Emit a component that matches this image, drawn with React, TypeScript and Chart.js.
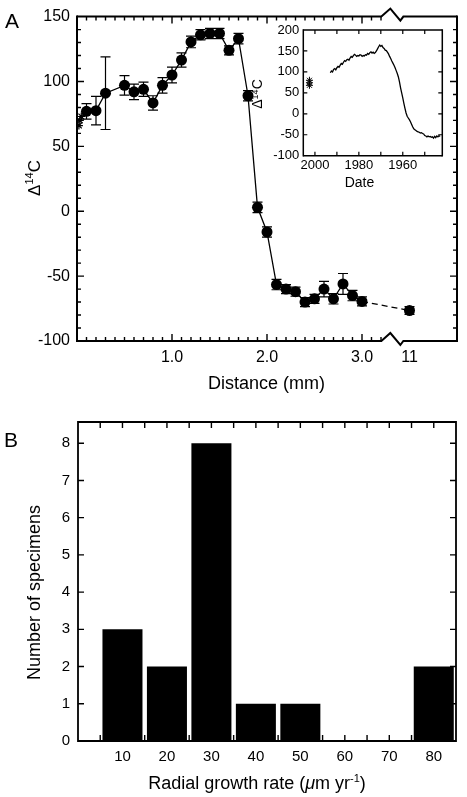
import React, { useEffect, useRef } from 'react';
import { Chart, registerables } from 'chart.js';
Chart.register(...registerables);

const FONT = '"Liberation Sans", Arial, Helvetica, sans-serif';

// ---------- Panel A: main profile ----------
const distanceMm = [0.1, 0.2, 0.3, 0.5, 0.6, 0.7, 0.8, 0.9, 1.0, 1.1, 1.2, 1.3, 1.4, 1.5, 1.6, 1.7, 1.8, 1.9, 2.0, 2.1, 2.2, 2.3, 2.4, 2.5, 2.6, 2.7, 2.8, 2.9, 3.0, 11];
const delta14C = [77, 77.5, 91, 97, 92, 94, 83.5, 97, 105, 116.5, 130.5, 136, 137, 137, 124, 133, 89, 3, -16, -56.5, -60, -62, -70, -67.5, -60, -67.5, -56, -65, -69.5, -76.5];
const delta14CErr = [6, 11, 28, 7.5, 6, 5.5, 5.5, 6, 6, 5.5, 4.5, 4, 4, 4, 3.5, 4, 4, 4, 4, 4, 3.5, 3.5, 3.5, 3.5, 6, 4, 8, 4, 3.5, 3];
const starDistanceMm = [0.03, 0.02, 0.045];
const starDelta14C = [70, 66, 73];
const distanceTickValues = [1, 2, 3, 11];
const distanceTickLabels = ['1.0', '2.0', '3.0', '11'];
const deltaTickValues = [-100, -50, 0, 50, 100, 150];
const BREAK_VALUE = 11; // plotted after the axis break
const BREAK_POSITION = 3.5;
const BREAK_CENTER = 3.33;
const toAxis = (d: number) => (d >= BREAK_VALUE ? BREAK_POSITION : d);

// ---------- Inset: atmospheric record ----------
const insetYear = [1993, 1992.5, 1992, 1991.5, 1991, 1990.5, 1990, 1989.5, 1989, 1988.5, 1988, 1987.5, 1987, 1986.5, 1986, 1985.5, 1985, 1984.5, 1984, 1983.5, 1983, 1982.5, 1982, 1981.5, 1981, 1980.5, 1980, 1979.5, 1979, 1978.5, 1978, 1977.5, 1977, 1976.5, 1976, 1975.5, 1975, 1974.5, 1974, 1973.5, 1973, 1972.5, 1972, 1971.5, 1971, 1970.5, 1970, 1969.5, 1969, 1968.5, 1968, 1967.5, 1967, 1966.5, 1966, 1965.5, 1965, 1964.5, 1964, 1963.5, 1963, 1962.5, 1962, 1961.5, 1961, 1960.5, 1960, 1959.5, 1959, 1958.5, 1958, 1957.5, 1957, 1956.5, 1956, 1955.5, 1955, 1954.5, 1954, 1953.5, 1953, 1952.5, 1952, 1951.5, 1951, 1950.5, 1950, 1949.5, 1949, 1948.5, 1948, 1947.5, 1947, 1946.5, 1946, 1945.5, 1945, 1944.5, 1944, 1943.5, 1943];
const insetDelta = [98, 102, 100, 106, 108, 105, 110, 113, 111, 116, 120, 118, 123, 127, 125, 129, 130, 128, 133, 137, 135, 139, 142, 140, 137, 139, 138, 141, 140, 137, 139, 138, 141, 140, 144, 142, 146, 148, 145, 147, 144, 146, 150, 155, 160, 164, 161, 163, 158, 156, 152, 151, 147, 143, 137, 132, 126, 121, 116, 110, 103, 96, 88, 76, 62, 50, 38, 25, 13, 2, -6, -10, -14, -19, -25, -31, -36, -38, -40, -42, -43, -44, -46, -45, -47, -48, -52, -53, -55, -53, -55, -54, -56, -55, -58, -54, -57, -53, -55, -52, -54];
const insetStarYear = [2002.5, 2002.5, 2002.5];
const insetStarDelta = [80, 74, 68];
const insetYearTicks = [2000, 1980, 1960];
const insetYearMarks = [2000, 1990, 1980, 1970, 1960, 1950];
const insetDeltaTicks = [-100, -50, 0, 50, 100, 150, 200];

// ---------- Panel B: histogram ----------
const growthRate = [10, 20, 30, 40, 50, 60, 70, 80];
const specimenCount = [3, 2, 8, 1, 1, 0, 0, 2];
const countTicks = [0, 1, 2, 3, 4, 5, 6, 7, 8];

type Part = { t: string; size: number; italic?: boolean; dy?: number };
function drawRich(ctx: CanvasRenderingContext2D, parts: Part[], cx: number, cy: number, vertical: boolean) {
  ctx.save();
  ctx.fillStyle = '#000';
  ctx.textBaseline = 'alphabetic';
  ctx.textAlign = 'left';
  const fontOf = (p: Part) => `${p.italic ? 'italic ' : ''}${p.size}px ${FONT}`;
  let total = 0;
  const widths = parts.map((p) => {
    ctx.font = fontOf(p);
    const w = ctx.measureText(p.t).width;
    total += w;
    return w;
  });
  const main = Math.max(...parts.map((p) => p.size));
  ctx.translate(cx, cy);
  if (vertical) ctx.rotate(-Math.PI / 2);
  let x = -total / 2;
  const base = main * 0.36;
  parts.forEach((p, i) => {
    ctx.font = fontOf(p);
    ctx.fillText(p.t, x, base + (p.dy || 0));
    x += widths[i];
  });
  ctx.restore();
}

type FrameCfg = {
  xMarks: number[];
  xMajor: number[];
  yMarks: number[];
  yMajor: number[];
  minorLen: number;
  majorLen: number;
  frameWidth: number;
  tickWidth: number;
  breakAt?: number;
};

function drawFrame(chart: any, cfg: FrameCfg) {
  const { ctx, chartArea } = chart;
  const { left, right, top, bottom } = chartArea;
  const xs = chart.scales.x;
  const ys = chart.scales.y;
  ctx.save();
  ctx.strokeStyle = '#000';
  ctx.lineCap = 'butt';
  ctx.lineJoin = 'miter';
  ctx.lineWidth = cfg.frameWidth;
  ctx.beginPath();
  ctx.moveTo(left, top - cfg.frameWidth / 2);
  ctx.lineTo(left, bottom + cfg.frameWidth / 2);
  ctx.moveTo(right, top - cfg.frameWidth / 2);
  ctx.lineTo(right, bottom + cfg.frameWidth / 2);
  ctx.stroke();
  const hline = (y: number) => {
    ctx.beginPath();
    ctx.moveTo(left, y);
    if (cfg.breakAt !== undefined) {
      const c = xs.getPixelForValue(cfg.breakAt);
      ctx.lineTo(c - 12, y);
      ctx.lineTo(c - 3, y - 8);
      ctx.lineTo(c + 7, y + 4);
      ctx.lineTo(c + 10, y);
    }
    ctx.lineTo(right, y);
    ctx.stroke();
  };
  hline(top);
  hline(bottom);
  ctx.lineWidth = cfg.tickWidth;
  ctx.beginPath();
  cfg.xMarks.forEach((v) => {
    const px = xs.getPixelForValue(v);
    const len = cfg.xMajor.includes(v) ? cfg.majorLen : cfg.minorLen;
    ctx.moveTo(px, bottom);
    ctx.lineTo(px, bottom - len);
    ctx.moveTo(px, top);
    ctx.lineTo(px, top + len);
  });
  cfg.yMarks.forEach((v) => {
    const py = ys.getPixelForValue(v);
    const len = cfg.yMajor.includes(v) ? cfg.majorLen : cfg.minorLen;
    ctx.moveTo(left, py);
    ctx.lineTo(left + len, py);
    ctx.moveTo(right, py);
    ctx.lineTo(right - len, py);
  });
  ctx.stroke();
  ctx.restore();
}

const hidden = { display: false };
const noGrid = { display: false, drawTicks: false, tickLength: 0 };

export default function App() {
  const refA = useRef<HTMLCanvasElement>(null);
  const refInset = useRef<HTMLCanvasElement>(null);
  const refB = useRef<HTMLCanvasElement>(null);

  useEffect(() => {
    // ---------------- Panel A ----------------
    const mainPoints = [
      { x: starDistanceMm[0], y: starDelta14C[0] },
      ...distanceMm.map((d, i) => ({ x: toAxis(d), y: delta14C[i] })),
    ];
    const lastIdx = mainPoints.length - 1;
    const xMarksA: number[] = [];
    for (let i = 1; i <= 32; i++) xMarksA.push(i / 10);
    const yMarksA: number[] = [];
    for (let v = -90; v <= 140; v += 10) yMarksA.push(v);

    const errorBars = {
      id: 'errorBars',
      beforeDatasetsDraw(chart: any) {
        const { ctx } = chart;
        const xs = chart.scales.x;
        const ys = chart.scales.y;
        ctx.save();
        ctx.strokeStyle = '#000';
        ctx.lineWidth = 1.2;
        ctx.beginPath();
        distanceMm.forEach((d, i) => {
          const px = xs.getPixelForValue(toAxis(d));
          const y1 = ys.getPixelForValue(delta14C[i] + delta14CErr[i]);
          const y2 = ys.getPixelForValue(delta14C[i] - delta14CErr[i]);
          ctx.moveTo(px, y1);
          ctx.lineTo(px, y2);
          ctx.moveTo(px - 5, y1);
          ctx.lineTo(px + 5, y1);
          ctx.moveTo(px - 5, y2);
          ctx.lineTo(px + 5, y2);
        });
        ctx.stroke();
        ctx.restore();
      },
    };
    const frameA = {
      id: 'frameA',
      afterDraw(chart: any) {
        drawFrame(chart, {
          xMarks: xMarksA,
          xMajor: [1, 2, 3],
          yMarks: yMarksA,
          yMajor: [-50, 0, 50, 100],
          minorLen: 4,
          majorLen: 7,
          frameWidth: 2,
          tickWidth: 1.4,
          breakAt: BREAK_CENTER,
        });
        const ctx = chart.ctx;
        drawRich(ctx, [{ t: 'A', size: 21 }], 12, 20, false);
        drawRich(ctx, [{ t: 'Distance (mm)', size: 18 }], 266.5, 383, false);
        drawRich(
          ctx,
          [
            { t: 'Δ', size: 17 },
            { t: '14', size: 11, dy: -7 },
            { t: 'C', size: 17 },
          ],
          34,
          178,
          true
        );
      },
    };

    const chartA = new Chart(refA.current!, {
      type: 'line',
      data: {
        datasets: [
          {
            data: mainPoints,
            borderColor: '#000',
            borderWidth: 1.3,
            pointRadius: (c: any) => (c.dataIndex === 0 ? 0 : 5.5),
            pointBackgroundColor: '#000',
            pointBorderColor: '#000',
            pointBorderWidth: 0,
            tension: 0,
            segment: {
              borderDash: (c: any) => (c.p1DataIndex === lastIdx ? [6, 4] : undefined),
            },
          } as any,
          {
            type: 'scatter',
            data: starDistanceMm.map((d, i) => ({ x: d, y: starDelta14C[i] })),
            pointStyle: 'star',
            pointRadius: 4,
            borderColor: '#000',
            backgroundColor: '#000',
            borderWidth: 1.2,
            showLine: false,
          } as any,
        ],
      },
      options: {
        animation: false,
        responsive: false,
        devicePixelRatio: 1,
        layout: { padding: { top: 14, right: 10, left: 0, bottom: 0 } },
        plugins: { legend: hidden, tooltip: { enabled: false } },
        scales: {
          x: {
            type: 'linear',
            min: 0,
            max: 4,
            grid: noGrid,
            border: hidden,
            afterBuildTicks: (s: any) => {
              s.ticks = distanceTickValues.map((v) => ({ value: toAxis(v) }));
            },
            afterFit: (s: any) => {
              s.height = 59;
            },
            ticks: {
              autoSkip: false,
              maxRotation: 0,
              padding: 7,
              color: '#000',
              font: { family: FONT, size: 16 },
              callback: (_v: any, i: number) => distanceTickLabels[i],
            },
          },
          y: {
            type: 'linear',
            min: -100,
            max: 150,
            grid: noGrid,
            border: hidden,
            afterBuildTicks: (s: any) => {
              s.ticks = deltaTickValues.map((v) => ({ value: v }));
            },
            afterFit: (s: any) => {
              s.width = 77;
            },
            ticks: {
              padding: 7,
              color: '#000',
              font: { family: FONT, size: 16 },
              callback: (v: any) => String(v),
            },
          },
        },
      } as any,
      plugins: [errorBars, frameA],
    });

    // ---------------- Inset ----------------
    const frameInset = {
      id: 'frameInset',
      afterDraw(chart: any) {
        drawFrame(chart, {
          xMarks: insetYearMarks,
          xMajor: [],
          yMarks: [-50, 0, 50, 100, 150],
          yMajor: [],
          minorLen: 4,
          majorLen: 4,
          frameWidth: 1.5,
          tickWidth: 1.2,
        });
        const ctx = chart.ctx;
        drawRich(ctx, [{ t: 'Date', size: 14 }], 119.5, 163.7, false);
        drawRich(
          ctx,
          [
            { t: 'Δ', size: 14 },
            { t: '14', size: 9, dy: -4 },
            { t: 'C', size: 14 },
          ],
          16.5,
          76,
          true
        );
      },
    };
    const chartInset = new Chart(refInset.current!, {
      type: 'line',
      data: {
        datasets: [
          {
            data: insetYear.map((y, i) => ({ x: y, y: insetDelta[i] })),
            borderColor: '#000',
            borderWidth: 1.3,
            pointRadius: 0,
            tension: 0,
          } as any,
          {
            type: 'scatter',
            data: insetStarYear.map((y, i) => ({ x: y, y: insetStarDelta[i] })),
            pointStyle: 'star',
            pointRadius: 3.5,
            borderColor: '#000',
            borderWidth: 1,
            showLine: false,
          } as any,
        ],
      },
      options: {
        animation: false,
        responsive: false,
        devicePixelRatio: 1,
        layout: { padding: { top: 12, right: 17.7, left: 0, bottom: 0 } },
        plugins: { legend: hidden, tooltip: { enabled: false } },
        scales: {
          x: {
            type: 'linear',
            reverse: true,
            min: 1942,
            max: 2005.3,
            grid: noGrid,
            border: hidden,
            afterBuildTicks: (s: any) => {
              s.ticks = insetYearTicks.map((v) => ({ value: v }));
            },
            afterFit: (s: any) => {
              s.height = 42.3;
            },
            ticks: {
              autoSkip: false,
              maxRotation: 0,
              padding: 2,
              color: '#000',
              font: { family: FONT, size: 13 },
              callback: (v: any) => String(v),
            },
          },
          y: {
            type: 'linear',
            min: -100,
            max: 200,
            grid: noGrid,
            border: hidden,
            afterBuildTicks: (s: any) => {
              s.ticks = insetDeltaTicks.map((v) => ({ value: v }));
            },
            afterFit: (s: any) => {
              s.width = 63.3;
            },
            ticks: {
              padding: 4,
              color: '#000',
              font: { family: FONT, size: 13 },
              callback: (v: any) => String(v),
            },
          },
        },
      } as any,
      plugins: [frameInset],
    });

    // ---------------- Panel B ----------------
    const xMarksB: number[] = [];
    for (let v = 5; v <= 80; v += 5) xMarksB.push(v);
    const frameB = {
      id: 'frameB',
      afterDraw(chart: any) {
        drawFrame(chart, {
          xMarks: xMarksB,
          xMajor: [],
          yMarks: countTicks.filter((v) => v > 0),
          yMajor: [],
          minorLen: 6,
          majorLen: 6,
          frameWidth: 1.8,
          tickWidth: 1.4,
        });
        const ctx = chart.ctx;
        drawRich(ctx, [{ t: 'B', size: 21 }], 11, 39, false);
        drawRich(
          ctx,
          [
            { t: 'Radial growth rate (', size: 18 },
            { t: 'μ', size: 18, italic: true },
            { t: 'm yr', size: 18 },
            { t: '-1', size: 11, dy: -7 },
            { t: ')', size: 18 },
          ],
          257,
          383,
          false
        );
        drawRich(ctx, [{ t: 'Number of specimens', size: 18 }], 34, 192.5, true);
      },
    };
    const chartB = new Chart(refB.current!, {
      type: 'bar',
      data: {
        datasets: [
          {
            data: growthRate.map((r, i) => ({ x: r, y: specimenCount[i] })),
            backgroundColor: '#000',
            borderWidth: 0,
            barPercentage: 0.9,
            categoryPercentage: 1,
          } as any,
        ],
      },
      options: {
        animation: false,
        responsive: false,
        devicePixelRatio: 1,
        layout: { padding: { top: 22, right: 11, left: 0, bottom: 0 } },
        plugins: { legend: hidden, tooltip: { enabled: false } },
        scales: {
          x: {
            type: 'linear',
            min: 0,
            max: 85,
            offset: false,
            grid: { display: false, drawTicks: false, tickLength: 0, offset: false },
            border: hidden,
            afterBuildTicks: (s: any) => {
              s.ticks = growthRate.map((v) => ({ value: v }));
            },
            afterFit: (s: any) => {
              s.height = 56;
            },
            ticks: {
              autoSkip: false,
              maxRotation: 0,
              padding: 7,
              color: '#000',
              font: { family: FONT, size: 15 },
              callback: (_v: any, i: number) => String(growthRate[i]),
            },
          },
          y: {
            type: 'linear',
            min: 0,
            max: 8.57,
            grid: noGrid,
            border: hidden,
            afterBuildTicks: (s: any) => {
              s.ticks = countTicks.map((v) => ({ value: v }));
            },
            afterFit: (s: any) => {
              s.width = 78;
            },
            ticks: {
              padding: 8,
              color: '#000',
              font: { family: FONT, size: 15 },
              callback: (v: any) => String(v),
            },
          },
        },
      } as any,
      plugins: [frameB],
    });

    return () => {
      chartA.destroy();
      chartInset.destroy();
      chartB.destroy();
    };
  }, []);

  return (
    <div style={{ position: 'absolute', left: 0, top: 0, width: 467, height: 797, background: '#fff' }}>
      <canvas ref={refA} width={467} height={400} style={{ position: 'absolute', left: 0, top: 0, width: 467, height: 400 }} />
      <canvas ref={refInset} width={220} height={180} style={{ position: 'absolute', left: 240, top: 18, width: 220, height: 180 }} />
      <canvas ref={refB} width={467} height={397} style={{ position: 'absolute', left: 0, top: 400, width: 467, height: 397 }} />
    </div>
  );
}
